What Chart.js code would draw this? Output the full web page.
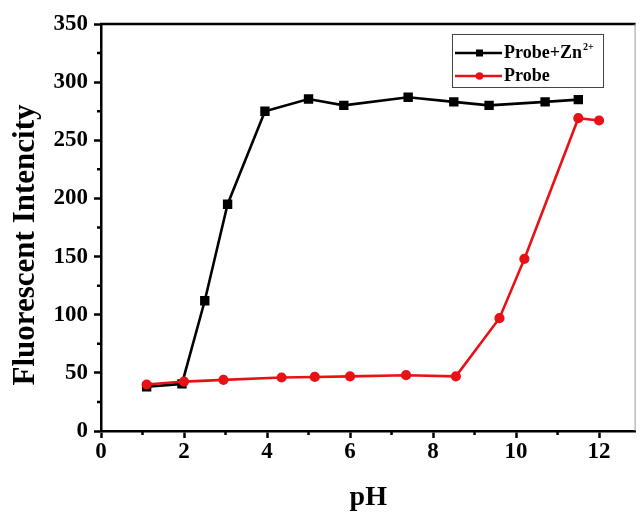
<!doctype html>
<html>
<head>
<meta charset="utf-8" />
<title>Fluorescent intensity vs pH</title>
<script src="https://cdn.jsdelivr.net/npm/chart.js"></script>
<style>
  html, body { margin: 0; padding: 0; background: #fff; }
  #wrap { width: 643px; height: 519px; position: relative; }
</style>
</head>
<body>
<div id="wrap"><canvas id="chart"></canvas></div>
<script>
// pH titration, probe alone and probe + Zn2+
const phZn = [1.1, 1.95, 2.5, 3.05, 3.95, 5.0, 5.85, 7.4, 8.5, 9.35, 10.7, 11.5];
const intensityZn = [38, 40.5, 112, 195, 275, 285.5, 280, 287, 283, 280, 283, 285];
const phProbe = [1.1, 2.0, 2.95, 4.35, 5.15, 6.0, 7.35, 8.55, 9.6, 10.2, 11.5, 12.0];
const intensityProbe = [40, 42.5, 44, 46, 46.5, 47, 48, 47, 97, 148, 269, 267];

const xTickValues = [0, 2, 4, 6, 8, 10, 12];
const xMinorValues = [1, 3, 5, 7, 9, 11];
const yTickValues = [0, 50, 100, 150, 200, 250, 300, 350];
const yMinorValues = [25, 75, 125, 175, 225, 275, 325];

const yTitle = 'Fluorescent Intencity';

const RED = 'rgb(232, 18, 22)';
const SERIF = "'Liberation Serif', 'Times New Roman', serif";

const toPoints = (xs, ys) => xs.map((x, i) => ({ x, y: ys[i] }));

// short outward ticks between the labelled ones, plus top/right frame
const framePlugin = {
  id: 'frame',
  afterDraw(chart) {
    const { ctx, chartArea: a, scales } = chart;
    ctx.save();
    ctx.strokeStyle = '#000';
    ctx.lineWidth = 2.5;
    ctx.beginPath();
    ctx.moveTo(a.left - 1, a.top);
    ctx.lineTo(a.right, a.top);
    ctx.stroke();
    ctx.strokeStyle = '#999';
    ctx.lineWidth = 1;
    ctx.beginPath();
    ctx.moveTo(a.right - 0.5, a.top);
    ctx.lineTo(a.right - 0.5, a.bottom);
    ctx.stroke();

    ctx.strokeStyle = '#000';
    ctx.lineWidth = 2.5;
    ctx.beginPath();
    for (const v of xMinorValues) {
      const px = scales.x.getPixelForValue(v);
      ctx.moveTo(px, a.bottom);
      ctx.lineTo(px, a.bottom + 4);
    }
    for (const v of yMinorValues) {
      const py = scales.y.getPixelForValue(v);
      ctx.moveTo(a.left, py);
      ctx.lineTo(a.left - 4, py);
    }
    ctx.stroke();

    // y axis title sits a little below the middle of the axis
    ctx.fillStyle = '#000';
    ctx.font = 'bold 31px ' + SERIF;
    ctx.textAlign = 'center';
    ctx.textBaseline = 'middle';
    ctx.translate(26, 245);
    ctx.rotate(-Math.PI / 2);
    ctx.fillText(yTitle, 0, 0);
    ctx.restore();
  }
};

// boxed legend with the Zn2+ superscript
const legendPlugin = {
  id: 'boxLegend',
  afterDraw(chart) {
    const ctx = chart.ctx;
    ctx.save();
    ctx.strokeStyle = '#444';
    ctx.lineWidth = 1;
    ctx.strokeRect(452.5, 34.5, 151, 53);

    const rows = [
      { y: 53, color: '#000', marker: 'rect', label: 'Probe+Zn', sup: '2+' },
      { y: 76, color: RED, marker: 'circle', label: 'Probe', sup: '' }
    ];
    for (const r of rows) {
      ctx.strokeStyle = r.color;
      ctx.fillStyle = r.color;
      ctx.lineWidth = 2.5;
      ctx.beginPath();
      ctx.moveTo(455, r.y);
      ctx.lineTo(502, r.y);
      ctx.stroke();
      if (r.marker === 'rect') {
        ctx.fillRect(476, r.y - 3.5, 7, 7);
      } else {
        ctx.beginPath();
        ctx.arc(479.5, r.y, 3.8, 0, Math.PI * 2);
        ctx.fill();
      }
      ctx.fillStyle = '#000';
      ctx.font = 'bold 18px ' + SERIF;
      ctx.textBaseline = 'alphabetic';
      ctx.fillText(r.label, 504, r.y + 5);
      if (r.sup) {
        const w = ctx.measureText(r.label).width;
        ctx.font = 'bold 10px ' + SERIF;
        ctx.fillText(r.sup, 504 + w + 1, r.y - 3);
      }
    }
    ctx.restore();
  }
};

new Chart(document.getElementById('chart'), {
  type: 'scatter',
  data: {
    datasets: [
      {
        label: 'Probe+Zn2+',
        data: toPoints(phZn, intensityZn),
        showLine: true,
        borderColor: '#000',
        backgroundColor: '#000',
        borderWidth: 2.6,
        pointStyle: 'rect',
        pointRadius: 4.8,
        pointHoverRadius: 4.8,
        order: 1
      },
      {
        label: 'Probe',
        data: toPoints(phProbe, intensityProbe),
        showLine: true,
        borderColor: RED,
        backgroundColor: RED,
        borderWidth: 2.6,
        pointStyle: 'circle',
        pointRadius: 3.8,
        pointHoverRadius: 3.8,
        order: 0
      }
    ]
  },
  plugins: [framePlugin, legendPlugin],
  options: {
    responsive: true,
    maintainAspectRatio: false,
    animation: false,
    events: [],
    layout: { padding: { top: 24, right: 1, bottom: 0, left: 0 } },
    plugins: { legend: { display: false }, tooltip: { enabled: false } },
    scales: {
      x: {
        type: 'linear',
        min: 0,
        max: 12.88,
        afterBuildTicks: (scale) => { scale.ticks = xTickValues.map((value) => ({ value })); },
        afterFit: (scale) => { scale.height = 88; },
        border: { color: '#000', width: 2.5 },
        grid: { drawOnChartArea: false, drawTicks: true, tickLength: 7, tickWidth: 2.5, tickColor: '#000' },
        ticks: { color: '#000', padding: 0, font: { family: SERIF, size: 23, weight: 'bold' } },
        title: {
          display: true,
          text: 'pH',
          color: '#000',
          padding: { top: 7, bottom: 4 },
          font: { family: SERIF, size: 28, weight: 'bold' }
        }
      },
      y: {
        min: 0,
        max: 350,
        afterBuildTicks: (scale) => { scale.ticks = yTickValues.map((value) => ({ value })); },
        afterFit: (scale) => { scale.width = 101; },
        border: { color: '#000', width: 2.5 },
        grid: { drawOnChartArea: false, drawTicks: true, tickLength: 7, tickWidth: 2.5, tickColor: '#000' },
        ticks: { color: '#000', padding: 6, font: { family: SERIF, size: 23, weight: 'bold' } }
      }
    }
  }
});
</script>
</body>
</html>
